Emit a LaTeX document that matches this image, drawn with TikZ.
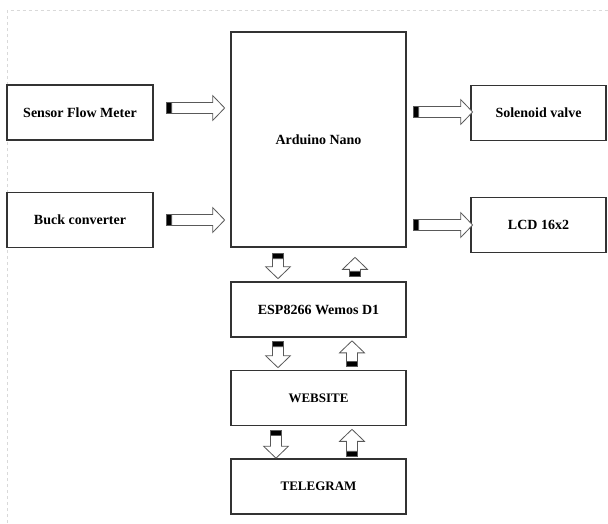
\documentclass[tikz,border=0pt]{standalone}
\usepackage{fontspec}
\setmainfont{Liberation Serif}
\usepackage{tikz}
\usetikzlibrary{calc,positioning}

\tikzset{
  blok/.style={draw=black!80,line width=1.3pt,fill=white,inner sep=0pt,
    font=\fontsize{14}{16}\selectfont\bfseries,minimum height=55},
  blokkecil/.style={blok,font=\fontsize{13}{15}\selectfont\bfseries},
  bingkai/.style={black!15,dashed,line width=0.8pt}
}

% panah blok: titik awal, sudut, panjang
\newcommand{\panahblok}[3]{%
  \begin{scope}[shift={(#1)},rotate=#2]
    \draw[black!65,line width=0.8pt,fill=white] (5,-5.5) -- (#3-12,-5.5) -- (#3-12,-12.5)
      -- (#3,0) -- (#3-12,12.5) -- (#3-12,5.5) -- (5,5.5) -- cycle;
    \draw[black!65,line width=0.8pt,fill=black] (0,-5.5) rectangle (5,5.5);
  \end{scope}}

\begin{document}
\begin{tikzpicture}[x=1pt,y=-1pt]
\useasboundingbox (0,0) rectangle (608,523);
\draw[bingkai] (7,523) -- (7,10.5) -- (608,10.5);

\node[blok,minimum width=146] (sensor) at (80,112.5) {Sensor Flow Meter};
\node[blok,minimum width=146] (buck) at (80,220) {Buck converter};
\node[blok,minimum width=175,minimum height=215] (nano) at (318.5,139.5) {Arduino Nano};
\node[blok,minimum width=135] (valve) at (538.5,113) {Solenoid valve};
\node[blok,minimum width=135] (lcd) at (538.5,225) {LCD 16x2};
\node[blok,minimum width=175] (esp) at (318.5,309.5) {ESP8266 Wemos D1};
\node[blokkecil,minimum width=175] (web) at (318.5,398) {WEBSITE};
\node[blokkecil,minimum width=175] (tele) at (318.5,486.5) {TELEGRAM};

% masukan ke arduino
\panahblok{$(sensor.east)+(13,-4.5)$}{0}{58}
\panahblok{$(buck.east)+(13,0)$}{0}{58}
% keluaran arduino
\panahblok{$(nano.east)+(7,-27.5)$}{0}{59}
\panahblok{$(nano.east)+(7,85.5)$}{0}{59}
% arduino <-> esp
\panahblok{$(nano.south)+(-40.5,6)$}{-90}{25}
\panahblok{$(esp.north)+(36.5,-5)$}{90}{19}
% esp <-> website
\panahblok{$(esp.south)+(-40.5,4)$}{-90}{26}
\panahblok{$(web.north)+(33.5,-3)$}{90}{26}
% website <-> telegram
\panahblok{$(web.south)+(-42.5,4)$}{-90}{28}
\panahblok{$(tele.north)+(33.5,-2)$}{90}{27}
\end{tikzpicture}
\end{document}
